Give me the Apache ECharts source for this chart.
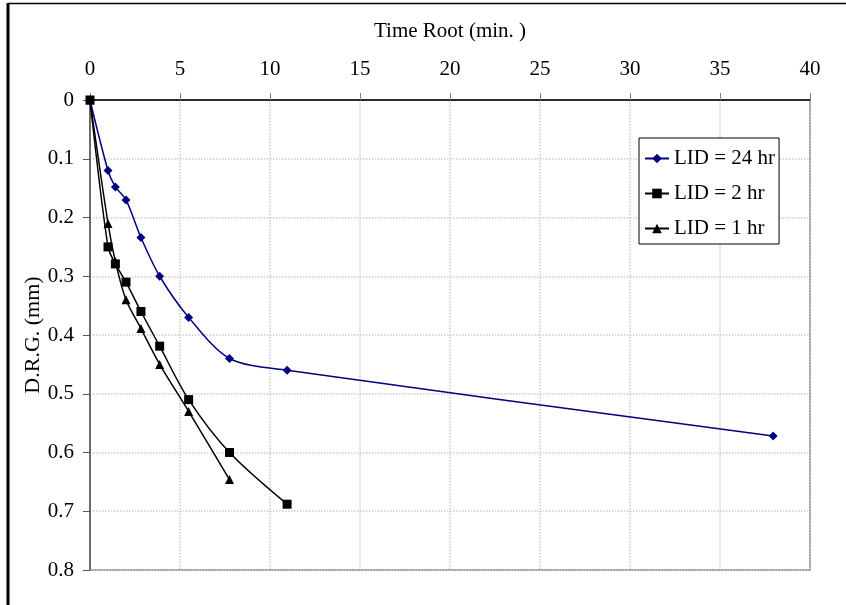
<!DOCTYPE html>
<html>
<head>
<meta charset="utf-8">
<script src="https://cdn.jsdelivr.net/npm/echarts@6/dist/echarts.min.js"></script>
<style>
html,body{margin:0;padding:0;background:#fff;}
#c{width:846px;height:605px;}
</style>
</head>
<body>
<div id="c"></div>
<script>
// Data
const xTicks = [0, 5, 10, 15, 20, 25, 30, 35, 40];
const yTicks = [0, 0.1, 0.2, 0.3, 0.4, 0.5, 0.6, 0.7, 0.8];
const seriesNames = ['LID = 24 hr', 'LID = 2 hr', 'LID = 1 hr'];
const x24 = [0, 1.0, 1.41, 2.0, 2.83, 3.87, 5.48, 7.75, 10.95, 37.95];
const y24 = [0, 0.12, 0.148, 0.17, 0.234, 0.300, 0.370, 0.440, 0.460, 0.572];
const x2 = [0, 1.0, 1.41, 2.0, 2.83, 3.87, 5.48, 7.75, 10.95];
const y2 = [0, 0.25, 0.279, 0.31, 0.36, 0.419, 0.51, 0.60, 0.688];
const x1 = [0, 1.0, 1.41, 2.0, 2.83, 3.87, 5.48, 7.75];
const y1 = [0, 0.21, 0.275, 0.34, 0.389, 0.45, 0.53, 0.646];

const pair = (xs, ys) => xs.map((x, i) => [x, ys[i]]);
const font = '"Liberation Serif","Times New Roman",serif';

const chart = echarts.init(document.getElementById('c'), null, {renderer: 'canvas'});
chart.setOption({
  animation: false,
  backgroundColor: '#fff',
  graphic: [
    {type: 'line', shape: {x1: 8, y1: 3.5, x2: 846, y2: 3.5}, style: {stroke: '#000', lineWidth: 1.5}},
    {type: 'line', shape: {x1: 8, y1: 3, x2: 8, y2: 605}, style: {stroke: '#000', lineWidth: 3}}
  ],
  grid: {left: 90, right: 36, top: 100, bottom: 35, show: true, borderColor: '#808080', borderWidth: 1.5, backgroundColor: 'transparent'},
  legend: {
    orient: 'vertical',
    left: 639, top: 138,
    padding: [10, 4, 5, 5],
    itemGap: 14,
    itemWidth: 24, itemHeight: 12,
    borderColor: '#000', borderWidth: 1,
    backgroundColor: '#fff',
    textStyle: {fontFamily: font, fontSize: 21, color: '#000'},
    data: seriesNames
  },
  xAxis: {
    type: 'value',
    position: 'top',
    min: 0, max: 40, interval: 5,
    name: 'Time Root (min. )',
    nameLocation: 'middle',
    nameGap: 58,
    nameMoveOverlap: false,
    nameTextStyle: {fontFamily: font, fontSize: 21, color: '#000'},
    axisLine: {show: true, lineStyle: {color: '#000', width: 1.5}},
    axisTick: {show: true, inside: false, length: 7, lineStyle: {color: '#808080'}},
    axisLabel: {fontFamily: font, fontSize: 21, color: '#000', margin: 20, formatter: v => xTicks.includes(v) ? String(v) : ''},
    splitLine: {show: true, lineStyle: {color: '#cccccc', type: 'dotted', width: 1.5}}
  },
  yAxis: {
    type: 'value',
    inverse: true,
    min: 0, max: 0.8, interval: 0.1,
    name: 'D.R.G. (mm)',
    nameLocation: 'middle',
    nameGap: 46,
    nameMoveOverlap: false,
    nameRotate: 90,
    nameTextStyle: {fontFamily: font, fontSize: 22, color: '#000'},
    axisLine: {show: true, lineStyle: {color: '#555', width: 1.5}},
    axisTick: {show: true, inside: false, length: 7, lineStyle: {color: '#555'}},
    axisLabel: {fontFamily: font, fontSize: 21, color: '#000', margin: 16,
      formatter: v => { const t = yTicks.find(k => Math.abs(k - v) < 1e-9); return t === undefined ? '' : String(t); }},
    splitLine: {show: true, lineStyle: {color: '#cccccc', type: 'dotted', width: 1.5}}
  },
  series: [
    {name: seriesNames[0], type: 'line', data: pair(x24, y24), smooth: 0.3,
     symbol: 'diamond', symbolSize: 9, color: '#000080',
     lineStyle: {color: '#000080', width: 1.5}, itemStyle: {color: '#000080'}, z: 3},
    {name: seriesNames[1], type: 'line', data: pair(x2, y2), smooth: 0.3,
     symbol: 'rect', symbolSize: 9, color: '#000',
     lineStyle: {color: '#000', width: 1.5}, itemStyle: {color: '#000'}, z: 4},
    {name: seriesNames[2], type: 'line', data: pair(x1, y1), smooth: 0.3,
     symbol: 'triangle', symbolSize: 9, color: '#000',
     lineStyle: {color: '#000', width: 1.5}, itemStyle: {color: '#000'}, z: 4}
  ]
});
</script>
</body>
</html>
